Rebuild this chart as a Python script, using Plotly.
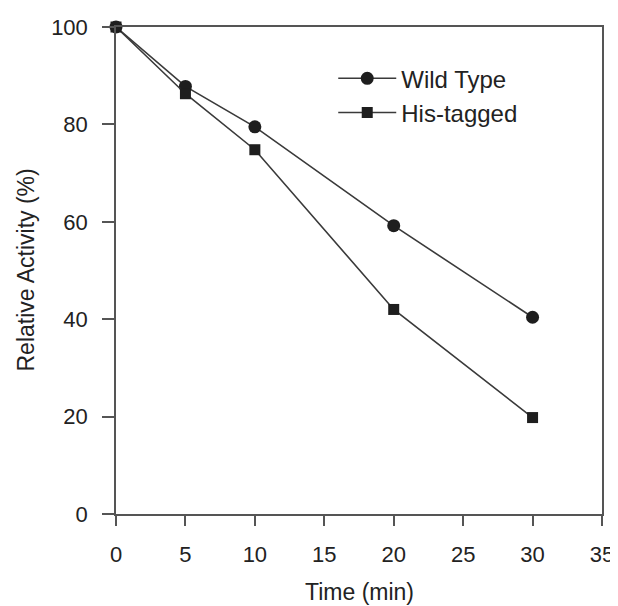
import plotly.graph_objects as go

time_min = [0, 5, 10, 20, 30]
wild_type = [100, 87.8, 79.5, 59.2, 40.4]
his_tagged = [100, 86.3, 74.8, 42.0, 19.8]

x_ticks = [0, 5, 10, 15, 20, 25, 30, 35]
y_ticks = [0, 20, 40, 60, 80, 100]

x_title = "Time (min)"
y_title = "Relative Activity (%)"

FONT = "Liberation Sans, Arial, sans-serif"
INK = "#222222"
LINE = "#3a3a3a"

fig = go.Figure()
fig.add_trace(go.Scatter(
    x=time_min, y=wild_type, name="Wild Type", mode="lines+markers",
    line=dict(color=LINE, width=1.6),
    marker=dict(symbol="circle", size=13, color="#1e1e1e"),
    cliponaxis=False,
))
fig.add_trace(go.Scatter(
    x=time_min, y=his_tagged, name="His-tagged", mode="lines+markers",
    line=dict(color=LINE, width=1.6),
    marker=dict(symbol="square", size=11, color="#1e1e1e"),
    cliponaxis=False,
))

axis_common = dict(
    showgrid=False, zeroline=False, showline=True, linecolor="#555555",
    linewidth=1.5, mirror=True, ticks="outside", tickcolor="#555555",
    tickwidth=1.5, tickfont=dict(family=FONT, size=22, color=INK),
    automargin=False,
)

# page body adds ~8px margin; size the figure so the plot lands where the reference has it
fig.update_layout(
    width=610, height=598,
    margin=dict(l=108, r=16, t=19, b=92),
    paper_bgcolor="white", plot_bgcolor="white",
    font=dict(family=FONT, size=22, color=INK),
    xaxis=dict(range=[0, 35], tickvals=x_ticks, ticklen=10, ticklabelstandoff=10,
               **axis_common),
    yaxis=dict(range=[0, 100], tickvals=y_ticks, ticklen=12, ticklabelstandoff=10,
               **axis_common),
    legend=dict(x=0.447, y=0.94, xanchor="left", yanchor="top",
                bgcolor="rgba(0,0,0,0)", font=dict(family=FONT, size=24, color=INK),
                itemwidth=58, tracegroupgap=0),
    showlegend=True,
    annotations=[
        dict(text=x_title, xref="paper", yref="paper", x=0.5, y=0,
             xanchor="center", yanchor="middle", yshift=-78, showarrow=False,
             font=dict(family=FONT, size=23, color=INK)),
        dict(text=y_title, xref="paper", yref="paper", x=0, y=0.5,
             xanchor="center", yanchor="middle", xshift=-91, textangle=-90,
             showarrow=False, font=dict(family=FONT, size=23, color=INK)),
    ],
)

fig.write_html("out.html")
